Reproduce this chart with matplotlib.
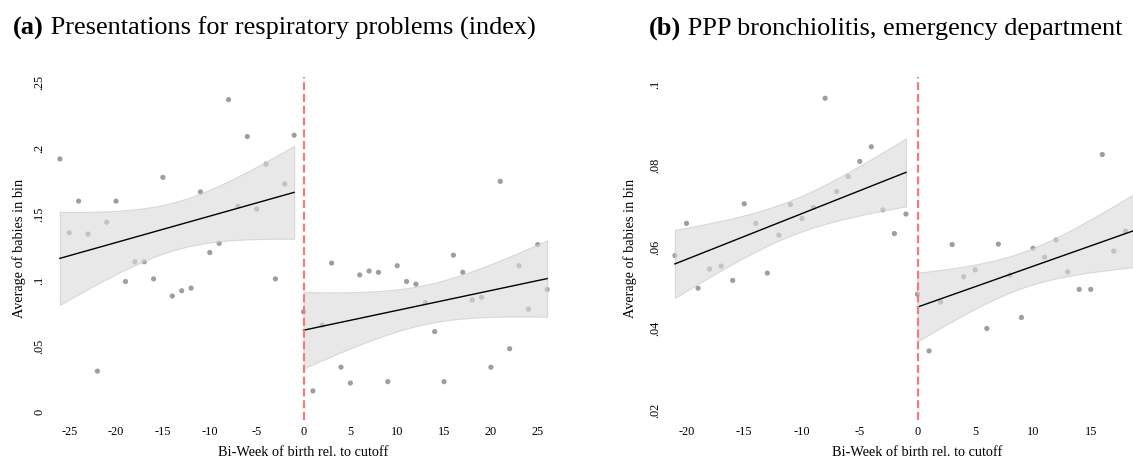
import numpy as np
import matplotlib
matplotlib.use("Agg")
import matplotlib.pyplot as plt

plt.rcParams["font.family"] = ["Liberation Serif", "DejaVu Serif"]

# ---- Panel (a): presentations for respiratory problems (index) ----
a_x_pre = list(range(-26, 0))
a_y_pre = [0.192, 0.136, 0.160, 0.135, 0.031, 0.144, 0.160, 0.099, 0.114, 0.114,
           0.101, 0.178, 0.088, 0.092, 0.094, 0.167, 0.121, 0.128, 0.237, 0.156,
           0.209, 0.154, 0.188, 0.101, 0.173, 0.210]
a_x_post = list(range(0, 27))
a_y_post = [0.076, 0.016, 0.066, 0.113, 0.034, 0.022, 0.104, 0.107, 0.106, 0.023,
            0.111, 0.099, 0.097, 0.083, 0.061, 0.023, 0.119, 0.106, 0.085, 0.087,
            0.034, 0.175, 0.048, 0.111, 0.078, 0.127, 0.093]
a_xticks = [-25, -20, -15, -10, -5, 0, 5, 10, 15, 20, 25]
a_yticks = [0, 0.05, 0.1, 0.15, 0.2, 0.25]
a_yticklabels = ["0", ".05", ".1", ".15", ".2", ".25"]

# ---- Panel (b): PPP bronchiolitis, emergency department ----
b_x_pre = list(range(-21, 0))
b_y_pre = [0.0579, 0.0658, 0.0499, 0.0546, 0.0553, 0.0518, 0.0706, 0.0658, 0.0536,
           0.0629, 0.0704, 0.0670, 0.0697, 0.0965, 0.0736, 0.0773, 0.0810, 0.0846,
           0.0691, 0.0633, 0.0681]
b_x_post = list(range(0, 19))
b_y_post = [0.0484, 0.0345, 0.0465, 0.0606, 0.0527, 0.0544, 0.0400, 0.0607, 0.0531,
            0.0427, 0.0597, 0.0575, 0.0617, 0.0539, 0.0496, 0.0496, 0.0827, 0.0590,
            0.0639]
b_xticks = [-20, -15, -10, -5, 0, 5, 10, 15]
b_yticks = [0.02, 0.04, 0.06, 0.08, 0.1]
b_yticklabels = [".02", ".04", ".06", ".08", ".1"]

titles = ["(a)", "(b)"]
subtitles = [" Presentations for respiratory problems (index)",
             " PPP bronchiolitis, emergency department"]
xlabel = "Bi-Week of birth rel. to cutoff"
ylabel = "Average of babies in bin"

POINT = "#9e9e9e"
BAND = "#dadada"
BAND_EDGE = "#c8c8c8"
CUTOFF = "#f27b82"

W, H = 1133, 459
fig = plt.figure(figsize=(W / 100, H / 100), dpi=100)


def px_axes(x0, x1, y0, y1):
    return fig.add_axes([x0 / W, 1 - y1 / H, (x1 - x0) / W, (y1 - y0) / H])


def lfitci(ax, x, y, xmin, xmax):
    """OLS fit with 95% confidence band for the mean."""
    x = np.asarray(x, float)
    y = np.asarray(y, float)
    n = len(x)
    b1, b0 = np.polyfit(x, y, 1)
    resid = y - (b0 + b1 * x)
    s = np.sqrt(np.sum(resid ** 2) / (n - 2))
    xm = x.mean()
    sxx = np.sum((x - xm) ** 2)
    t = {17: 2.110, 19: 2.093, 24: 2.064, 25: 2.060}.get(n - 2, 2.06)
    xs = np.linspace(xmin, xmax, 200)
    fit = b0 + b1 * xs
    se = s * np.sqrt(1 / n + (xs - xm) ** 2 / sxx)
    ax.fill_between(xs, fit - t * se, fit + t * se, facecolor=BAND,
                    edgecolor=BAND_EDGE, linewidth=0.8, alpha=0.62, zorder=3)
    ax.plot(xs, fit, color="black", linewidth=1.0, zorder=4)


def panel(ax, xpre, ypre, xpost, ypost, xticks, yticks, yticklabels,
          xlim, ylim, post_end, left_px, ylabel_px):
    ax.scatter(xpre + xpost, ypre + ypost, s=14, color=POINT,
               edgecolors="none", zorder=2)
    lfitci(ax, xpre, ypre, min(xpre), max(xpre))
    lfitci(ax, xpost, ypost, min(xpost), post_end)
    ax.axvline(0, color=CUTOFF, linewidth=1.6, dashes=(3.6, 1.7), zorder=5)
    ax.set_xlim(*xlim)
    ax.set_ylim(*ylim)
    ax.set_xticks(xticks)
    ax.set_xticklabels([str(v) for v in xticks])
    ax.set_yticks(yticks)
    ax.set_yticklabels(yticklabels, rotation=90, va="center")
    ax.tick_params(length=0, labelsize=8.8, pad=4)
    ax.tick_params(axis="y", pad=2)
    for sp in ax.spines.values():
        sp.set_visible(False)
    ax.set_xlabel(xlabel, fontsize=10.3)
    ax.xaxis.set_label_coords((0 - xlim[0]) / (xlim[1] - xlim[0]), -0.075)
    ax.set_ylabel(ylabel, fontsize=10.3)
    ax.yaxis.label.set_va("center")
    width_px = ax.get_position().width * W
    ax.yaxis.set_label_coords((ylabel_px - left_px) / width_px, 0.5)


# Panel (a): pixel mapping x = 303.5 + 9.37*u, y = 412 - 1318*v
ax1 = px_axes(48, 560, 77, 420)
panel(ax1, a_x_pre, a_y_pre, a_x_post, a_y_post, a_xticks, a_yticks,
      a_yticklabels, ((48 - 303.5) / 9.37, (560 - 303.5) / 9.37),
      ((412 - 420) / 1318, (412 - 77) / 1318), max(a_x_post), 48, 19)

# Panel (b): pixel mapping x = 917.5 + 11.55*u, y = 491.5 - 4075*v
b_xlim = ((664 - 917.5) / 11.55, (1133 - 917.5) / 11.55)
ax2 = px_axes(664, 1133, 77, 420)
panel(ax2, b_x_pre, b_y_pre, b_x_post, b_y_post, b_xticks, b_yticks,
      b_yticklabels, b_xlim,
      ((491.5 - 420) / 4075, (491.5 - 77) / 4075), b_xlim[1], 664, 630)

# Panel titles: bold letter followed by regular text
for (xpix, tag, sub) in [(13, titles[0], subtitles[0]), (649, titles[1], subtitles[1])]:
    t = fig.text(xpix / W, 1 - 35 / H, tag, fontsize=18.9, fontweight="bold",
                 ha="left", va="baseline")
    fig.canvas.draw()
    bb = t.get_window_extent()
    fig.text(bb.x1 / W, 1 - 35 / H, sub, fontsize=18.9, ha="left", va="baseline")

fig.savefig("out.png", dpi=100)
